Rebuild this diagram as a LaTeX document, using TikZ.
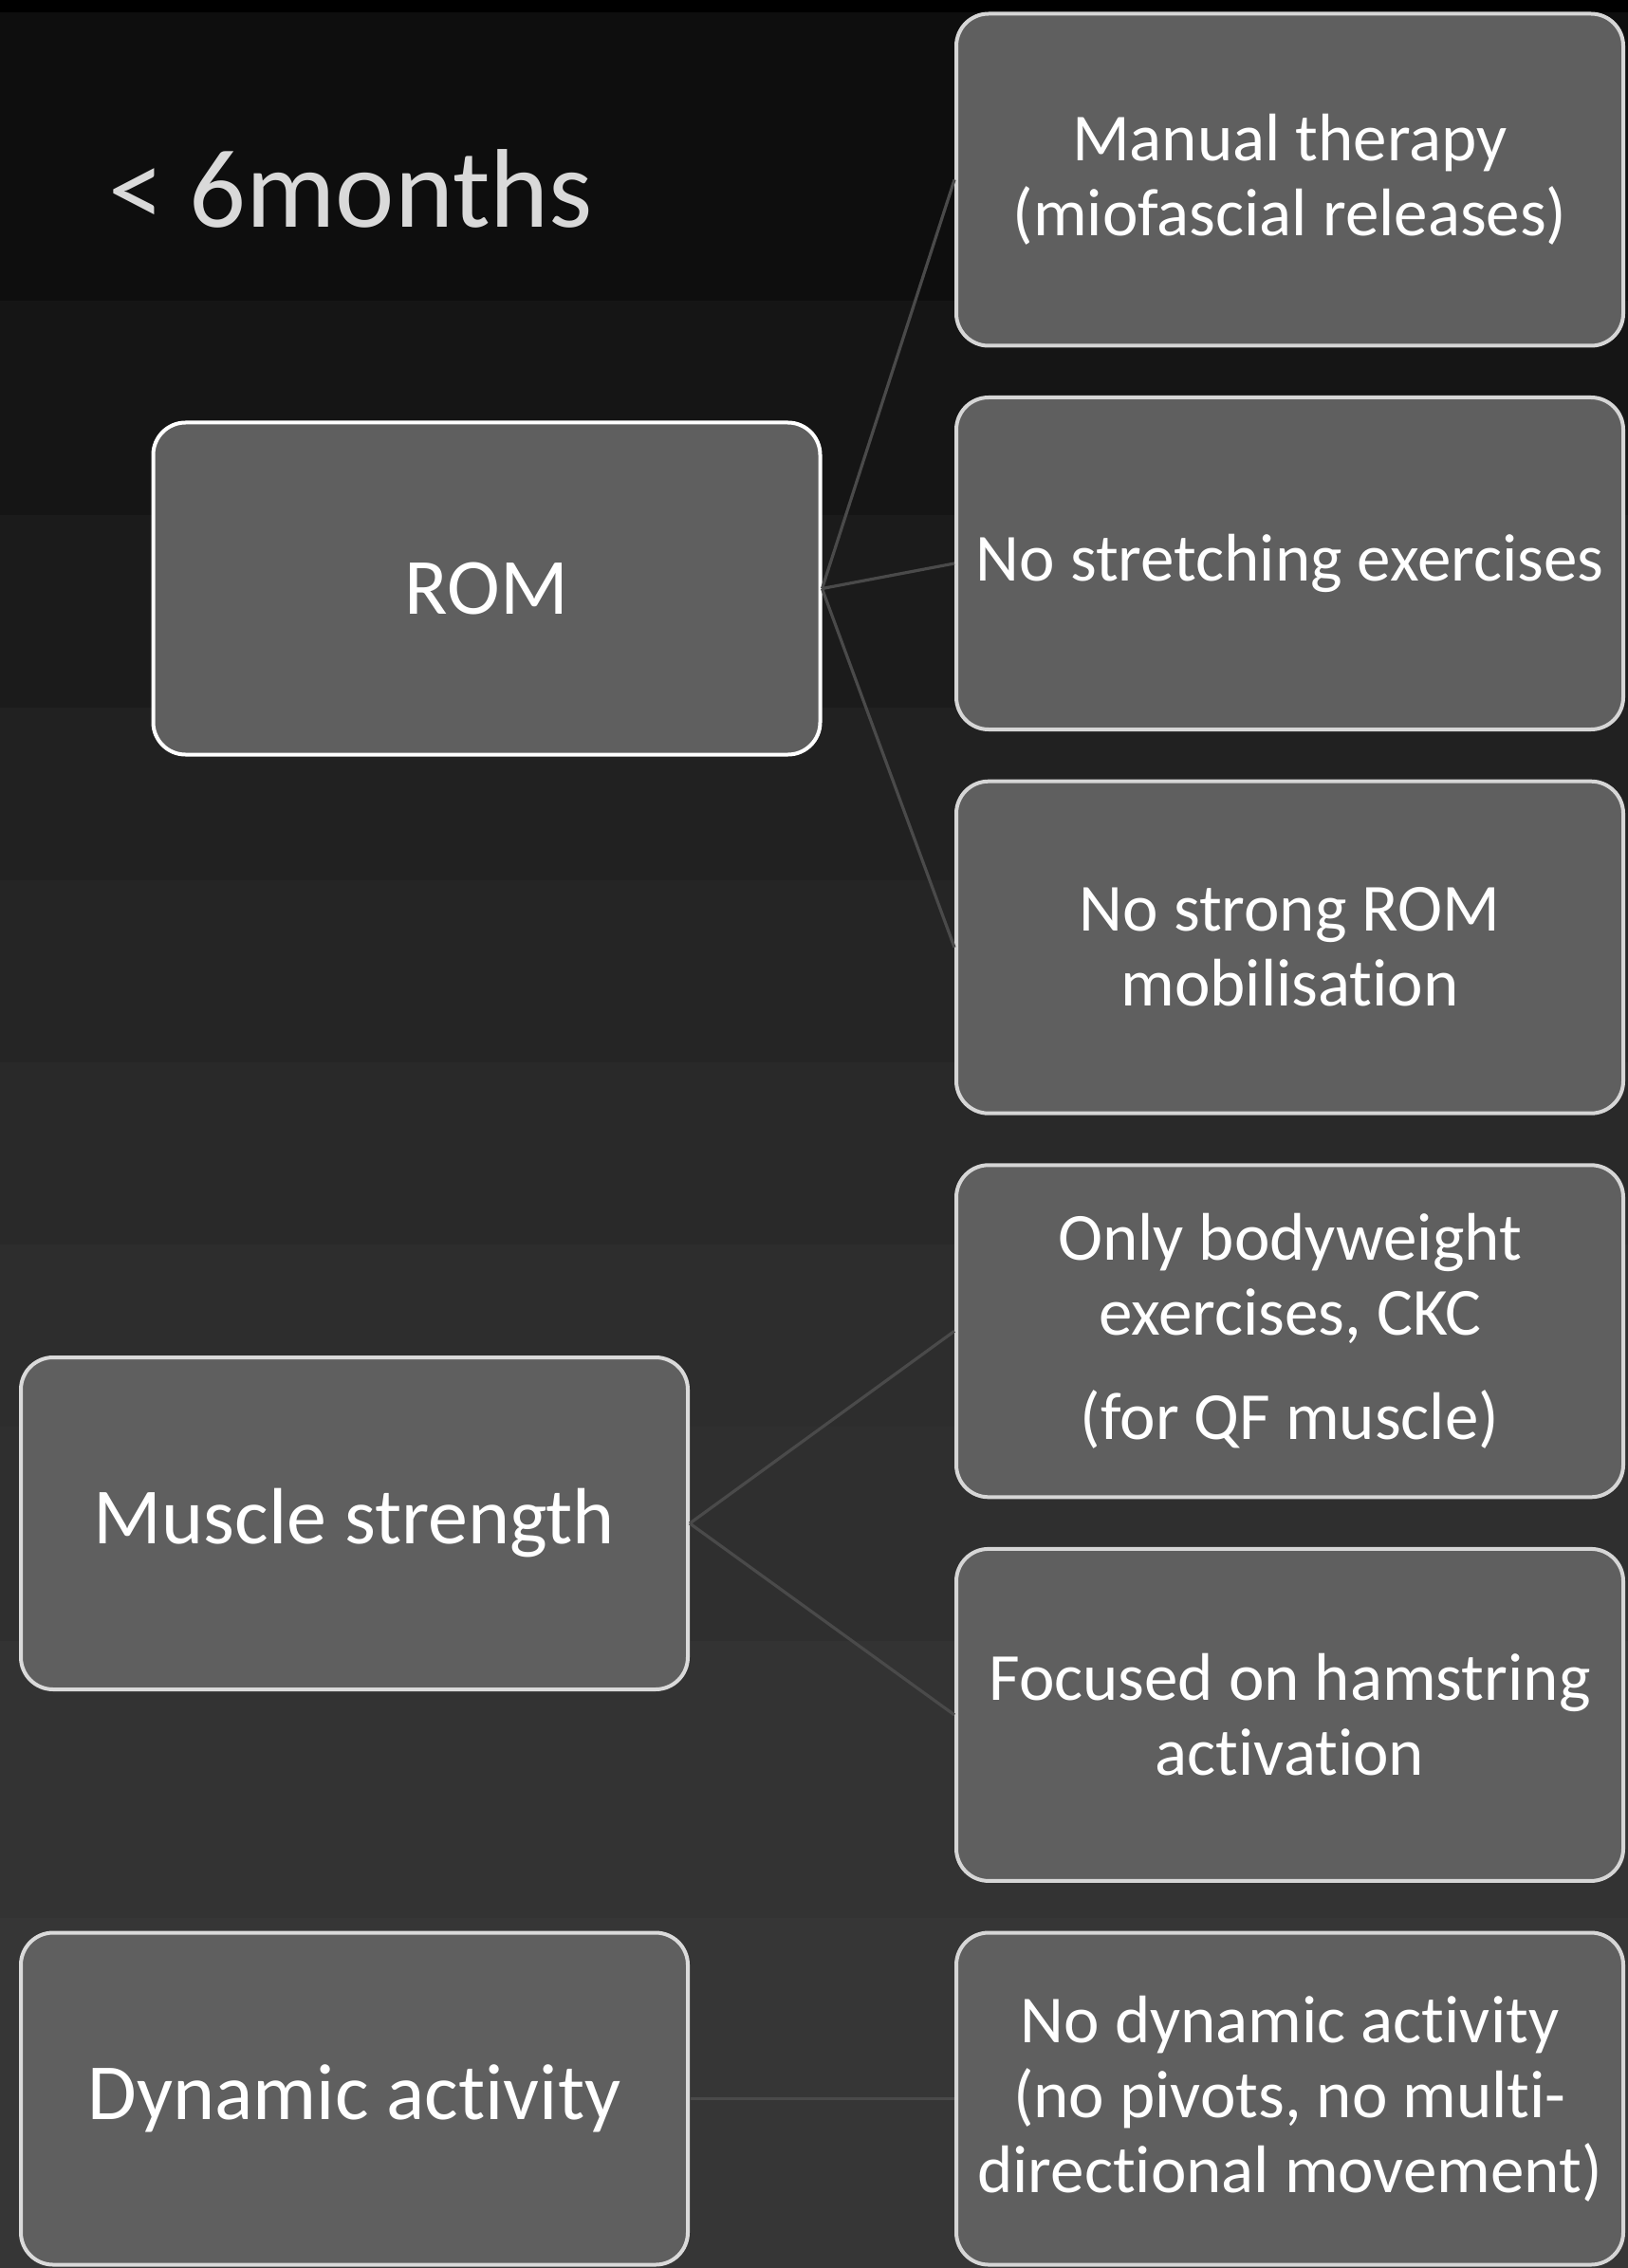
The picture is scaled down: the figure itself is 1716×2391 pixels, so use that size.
\documentclass[tikz,border=0pt]{standalone}
\usepackage{fontspec}
\setmainfont{Carlito}[Ligatures=NoCommon]
\definecolor{boxfill}{HTML}{5F5F5F}
\definecolor{rborder}{HTML}{D6D6D6}
\definecolor{lborder}{HTML}{DADADA}
\definecolor{conncol}{HTML}{4A4A4A}
\definecolor{titlecol}{HTML}{D9D9D9}
\begin{document}
\begin{tikzpicture}[x=0.5pt,y=-0.5pt,
  basebox/.style={rectangle, rounded corners=17pt, draw=rborder, line width=2pt,
    fill=boxfill, text=white, align=center, inner sep=0pt},
  rbox/.style={basebox, minimum width=351.5pt, minimum height=175pt,
    font=\fontsize{35.5}{39.5}\selectfont},
  lbox/.style={basebox, draw=lborder, minimum width=351.5pt, minimum height=175pt,
    font=\fontsize{42}{48}\selectfont},
  conn/.style={draw=conncol, line width=1.6pt}]
\useasboundingbox (0,0) rectangle (1716,2391);
% background bands
\fill[black] (0,0) rectangle (1716,13);
\fill[fill={rgb,255:red,14;green,14;blue,14}] (0,13) rectangle (1716,317);
\fill[fill={rgb,255:red,21;green,21;blue,21}] (0,317) rectangle (1716,543);
\fill[fill={rgb,255:red,27;green,27;blue,27}] (0,543) rectangle (1716,746);
\fill[fill={rgb,255:red,33;green,33;blue,33}] (0,746) rectangle (1716,928);
\fill[fill={rgb,255:red,37;green,37;blue,37}] (0,928) rectangle (1716,1120);
\fill[fill={rgb,255:red,41;green,41;blue,41}] (0,1120) rectangle (1716,1312);
\fill[fill={rgb,255:red,45;green,45;blue,45}] (0,1312) rectangle (1716,1504);
\fill[fill={rgb,255:red,47;green,47;blue,47}] (0,1504) rectangle (1716,1730);
\fill[fill={rgb,255:red,51;green,51;blue,51}] (0,1730) rectangle (1716,2022);
\fill[fill={rgb,255:red,54;green,54;blue,54}] (0,2022) rectangle (1716,2391);
% title
\node[anchor=base west, inner sep=0pt, text=titlecol, font=\fontsize{59}{70}\selectfont] (title) at (114,240) {< 6months};
% left boxes
\node[lbox, draw=white] (rom) at (513,620.5) {ROM};
\node[lbox] (mus) at (373.5,1606) {Muscle strength};
\node[lbox] (dyn) at (373.5,2212.5) {Dynamic activity};
% right boxes
\node[rbox] (r1) at (1359.5,189.5) {Manual therapy\\(miofascial releases)};
\node[rbox] (r2) at (1359.5,594) {No stretching exercises};
\node[rbox] (r3) at (1359.5,998.7) {No strong ROM\\mobilisation};
\node[rbox] (r4) at (1359.5,1403.3) {Only bodyweight\\exercises, CKC\\[15.5pt](for QF muscle)};
\node[rbox] (r5) at (1359.5,1807.9) {Focused on hamstring\\activation};
\node[rbox] (r6) at (1359.5,2212.5) {No dynamic activity\\(no pivots, no multi-\\directional movement)};
% connectors
\draw[conn] (rom.east) -- (r1.west);
\draw[conn] (rom.east) -- (r2.west);
\draw[conn] (rom.east) -- (r3.west);
\draw[conn] (mus.east) -- (r4.west);
\draw[conn] (mus.east) -- (r5.west);
\draw[conn] (dyn.east) -- (r6.west);
\end{tikzpicture}
\end{document}
